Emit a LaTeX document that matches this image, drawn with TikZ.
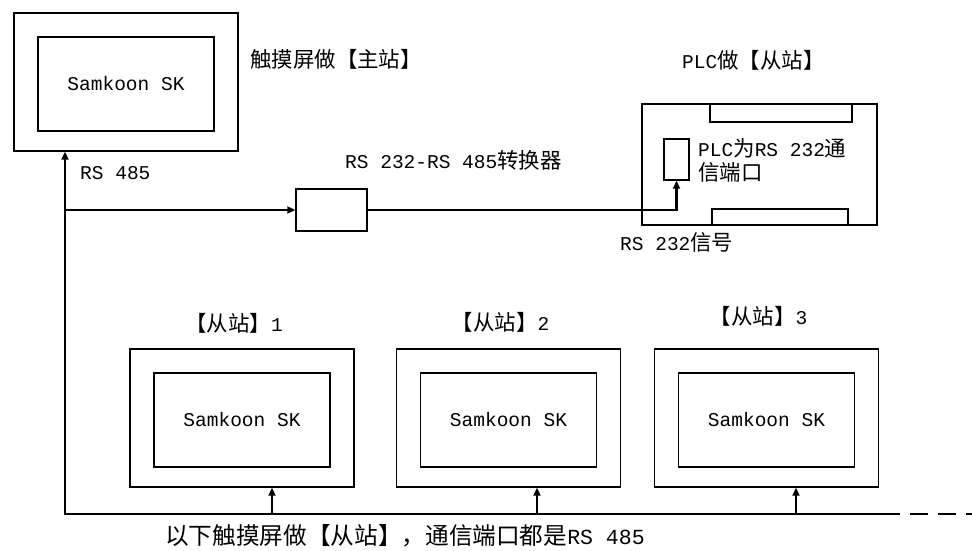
\documentclass[tikz,border=0pt]{standalone}
\usepackage{fontspec}
\setmainfont{Liberation Mono}
\newfontfamily\cjk[Scale=1.1]{Noto Sans CJK SC}
\usetikzlibrary{positioning,arrows.meta}

\begin{document}
\begin{tikzpicture}[x=1pt,y=-1pt,
  outerbox/.style={draw,line width=1.4pt,minimum width=224pt,minimum height=138pt,inner sep=0pt},
  innerbox/.style={draw,line width=1.4pt,minimum width=176pt,minimum height=94pt,inner sep=0pt,font=\fontsize{19.5}{22}\selectfont},
  plain/.style={draw,line width=1.4pt,inner sep=0pt},
  lbl/.style={inner sep=0pt,anchor=west,font=\fontsize{19.5}{24}\selectfont},
  wire/.style={line width=2.6pt},
  feed/.style={wire,-{Triangle[length=8pt,width=7pt]}}]
  \useasboundingbox (0,0) rectangle (972,551);
  % master touch screen
  \node[outerbox] (master) at (126,82) {};
  \node[innerbox] (masterscr) at (126,84) {Samkoon SK};
  \node[lbl] (masterlbl) at (250,59) {\cjk 触摸屏做【主站】};
  \node[lbl] (rs485) at (80,173) {RS 485};
  % converter and PLC
  \node[plain,minimum width=71pt,minimum height=42pt] (conv) at (331.5,210) {};
  \node[lbl] (convlbl) at (345,160) {RS 232-RS 485{\cjk 转换器}};
  \node[plain,minimum width=235pt,minimum height=121pt] (plc) at (759.5,164.5) {};
  \node[plain,minimum width=142pt,minimum height=18pt] (plctop) at (781,113) {};
  \node[plain,minimum width=136pt,minimum height=16pt] (plcbot) at (780,217) {};
  \node[plain,minimum width=25pt,minimum height=41pt] (port) at (676.5,159.5) {};
  \node[lbl,align=left] (portlbl) at (698,160) {PLC{\cjk 为}RS 232{\cjk 通}\\{\cjk 信端口}};
  \node[lbl] (plclbl) at (682,60) {PLC{\cjk 做【从站】}};
  \node[lbl] (rs232) at (620,242) {RS 232{\cjk 信号}};
  % bus
  \coordinate (busL) at (65,514);
  \coordinate (busR) at (900,514);
  \coordinate (busEnd) at (972,514);
  \coordinate (split) at (65,210);
  \draw[feed] (busR) -- (busL) -- (busL |- master.south);
  \draw[wire,dash pattern=on 18pt off 10pt,dash phase=18pt] (busR) -- (busEnd);
  \draw[feed] (split) -- (conv.west);
  \draw[feed] (conv.east) -| (port.south);
  % slave touch screens
  \foreach \i/\cx/\ax/\ly in {1/242/272/323, 2/508.5/537/322, 3/766.5/796/316}{
    \node[outerbox] (slave\i) at (\cx,418) {};
    \node[innerbox] (slavescr\i) at (\cx,420) {Samkoon SK};
    \node[lbl,anchor=center] (slavelbl\i) at (\cx-8,\ly) {{\cjk 【从站】}\i};
    \coordinate (tap\i) at (\ax,514);
    \draw[feed] (tap\i) -- (tap\i |- slave\i.south);
  }
  \node[lbl,font=\fontsize{21.5}{24}\selectfont] (buslbl) at (165,536) {{\cjk 以下触摸屏做【从站】，通信端口都是}RS 485};
\end{tikzpicture}
\end{document}
